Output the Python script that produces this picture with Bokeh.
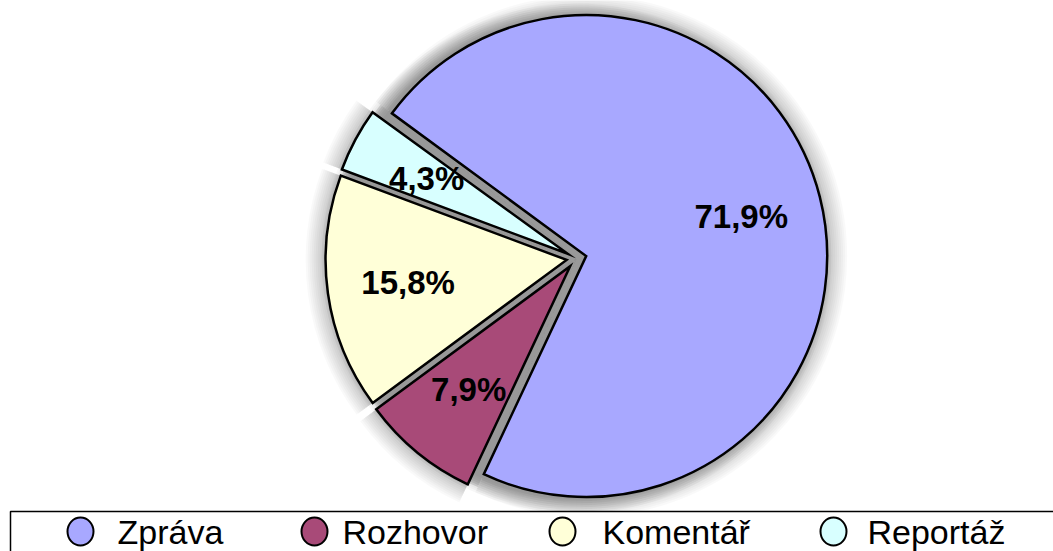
import math
from bokeh.plotting import figure
from bokeh.models import Range1d, ColumnDataSource
from bokeh.core.properties import value
from bokeh.embed import file_html
from bokeh.resources import INLINE

# ---- data ----
categories = ["Zpráva", "Rozhovor", "Komentář", "Reportáž"]
shares = [71.9, 7.9, 15.8, 4.3]
labels = ["71,9%", "7,9%", "15,8%", "4,3%"]
colors = ["#A8A8FF", "#A84A78", "#FFFFD8", "#D8FFFF"]

# ---- layout ----
W, H = 1053, 551
CX, CY = 576, 293        # pie centre (data units == pixels, y up)
R = 241                  # radius
EXPL = 10                # explode distance
LABEL_R = 160            # label distance from slice tip
START = 306.3            # first slice start, degrees clockwise from 12 o'clock

p = figure(width=W, height=H, output_backend="svg", toolbar_location=None,
           x_range=Range1d(0, W), y_range=Range1d(0, H), min_border=0)
p.axis.visible = False
p.grid.visible = False
p.outline_line_color = None
p.background_fill_color = "white"
p.border_fill_color = "white"

xs, ys, sa, ea, lx, ly, gs, ge = [], [], [], [], [], [], [], []
cum = START
for v in shares:
    span = v / 100.0 * 360.0
    a1, a2 = cum, cum + span
    mid = math.radians((a1 + a2) / 2)
    ex = CX + EXPL * math.sin(mid)
    ey = CY + EXPL * math.cos(mid)
    xs.append(ex); ys.append(ey)
    sa.append(math.radians(90 - a1)); ea.append(math.radians(90 - a2))
    gs.append(math.radians(90 - a1 + 1.8)); ge.append(math.radians(90 - a1 - 1.8))
    lx.append(ex + LABEL_R * math.sin(mid)); ly.append(ey + LABEL_R * math.cos(mid))
    cum = a2

src = ColumnDataSource(dict(x=xs, y=ys, start=sa, end=ea, color=colors,
                            label=labels, lx=lx, ly=ly, cat=categories))
gap_src = ColumnDataSource(dict(gs=gs, ge=ge, x=[CX] * len(gs), y=[CY] * len(gs)))

# soft shadow around the pie
for k in range(1, 11):
    p.wedge(x="x", y="y", radius=R + 2 * k, start_angle="start", end_angle="end",
            direction="clock", source=src, fill_color="black", fill_alpha=0.022,
            line_color=None)
for k in range(0, 8):
    p.circle(x=[CX], y=[CY], radius=R + 2 * k, fill_color="black",
             fill_alpha=0.03, line_color=None)
# gray fill visible in the gaps
p.circle(x=[CX], y=[CY], radius=R - 2, fill_color="#999999", line_color=None)
for k in range(0, 5):
    p.wedge(x="x", y="y", radius=R + 2 * k, start_angle="gs", end_angle="ge",
            direction="clock", source=gap_src, fill_color="#999999",
            fill_alpha=0.35, line_color=None)

# slices
p.wedge(x="x", y="y", radius=R, start_angle="start", end_angle="end",
        direction="clock", source=src, fill_color="color", line_color="black",
        line_width=2.5, line_join="miter")

# percent labels
p.text(x="lx", y="ly", text="label", source=src, text_align="center",
       text_baseline="middle", text_font=value("Liberation Sans"),
       text_font_style="bold", text_font_size="33px", text_color="black")

# legend box (runs off the bottom and right of the page)
LEG_TOP = 40
p.quad(left=[10], right=[1120], top=[LEG_TOP], bottom=[-60], fill_color="white",
       line_color="black", line_width=1.5)
leg_mx = [80, 314, 562, 833]
leg_tx = [117, 342, 602, 867]
leg_y = 20
p.ellipse(x=leg_mx, y=[leg_y] * 4, width=26, height=28, fill_color=colors,
          line_color="black", line_width=2)
p.text(x=leg_tx, y=[leg_y] * 4, text=categories, text_align="left",
       text_baseline="middle", text_font=value("Liberation Sans"),
       text_font_size="34px", text_color="black")

open("out.html", "w").write(file_html(p, INLINE))
